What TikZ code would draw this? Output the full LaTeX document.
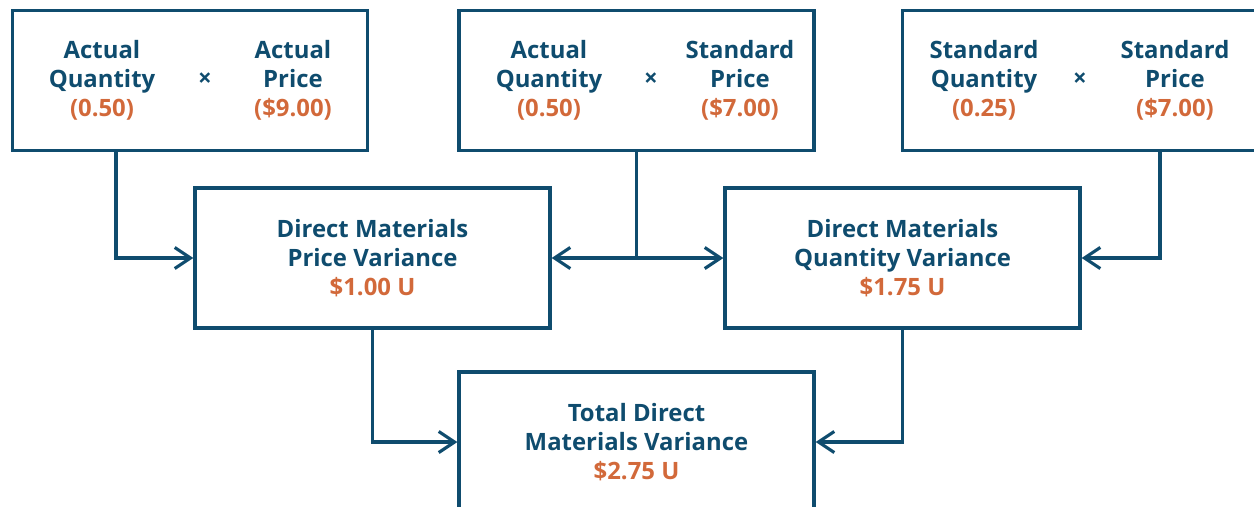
\documentclass[tikz,border=0pt]{standalone}
\usepackage{fontspec}
\setmainfont{Open Sans}
\usetikzlibrary{arrows.meta}
\definecolor{navy}{HTML}{0F4C6E}
\definecolor{rust}{HTML}{D2693A}
\newcommand{\amt}[1]{\textcolor{rust}{#1}}
\tikzset{
  box/.style={draw=navy,line width=1.9pt,minimum width=7.1cm,minimum height=2.8cm,inner sep=0pt},
  lbl/.style={text=navy,font=\fontsize{13.6}{16.4}\selectfont\bfseries,align=center},
  link/.style={draw=navy,line width=1.8pt,-{Straight Barb[length=9pt,width=12pt,line width=1.8pt]}},
}
\begin{document}
\begin{tikzpicture}[x=0.02cm,y=-0.02cm,line join=miter]
  \useasboundingbox (0,0) rectangle (1254,507);
  \clip (0,0) rectangle (1254,507);
  % top row
  \node[box] (aqap) at (190,80.5) {};
  \node[lbl] (aqap-l) at (102,80) {Actual\\Quantity\\\amt{(0.50)}};
  \node[lbl] (aqap-x) at (205,80) {×};
  \node[lbl] (aqap-r) at (293,80) {Actual\\Price\\\amt{(\$9.00)}};
  \node[box] (aqsp) at (636.5,80.5) {};
  \node[lbl] (aqsp-l) at (549,80) {Actual\\Quantity\\\amt{(0.50)}};
  \node[lbl] (aqsp-x) at (651,80) {×};
  \node[lbl] (aqsp-r) at (740,80) {Standard\\Price\\\amt{(\$7.00)}};
  \node[box] (sqsp) at (1080,80.5) {};
  \node[lbl] (sqsp-l) at (984,80) {Standard\\Quantity\\\amt{(0.25)}};
  \node[lbl] (sqsp-x) at (1080,80) {×};
  \node[lbl] (sqsp-r) at (1175,80) {Standard\\Price\\\amt{(\$7.00)}};
  % variances
  \node[box] (pv) at (372.5,258) {};
  \node[lbl] (pv-t) at (372.5,258) {Direct Materials\\Price Variance\\\amt{\$1.00 U}};
  \node[box] (qv) at (902.5,258) {};
  \node[lbl] (qv-t) at (902.5,258) {Direct Materials\\Quantity Variance\\\amt{\$1.75 U}};
  \node[box] (tot) at (636.5,442) {};
  \node[lbl] (tot-t) at (636.5,442) {Total Direct\\Materials Variance\\\amt{\$2.75 U}};
  % connectors
  \draw[link] ([xshift=-1.48cm]aqap.south) |- (pv.west);
  \draw[link] (aqsp.south) |- (pv.east);
  \draw[link] (aqsp.south) |- (qv.west);
  \draw[link] ([xshift=1.6cm]sqsp.south) |- (qv.east);
  \draw[link] (pv.south) |- (tot.west);
  \draw[link] (qv.south) |- (tot.east);
\end{tikzpicture}
\end{document}
